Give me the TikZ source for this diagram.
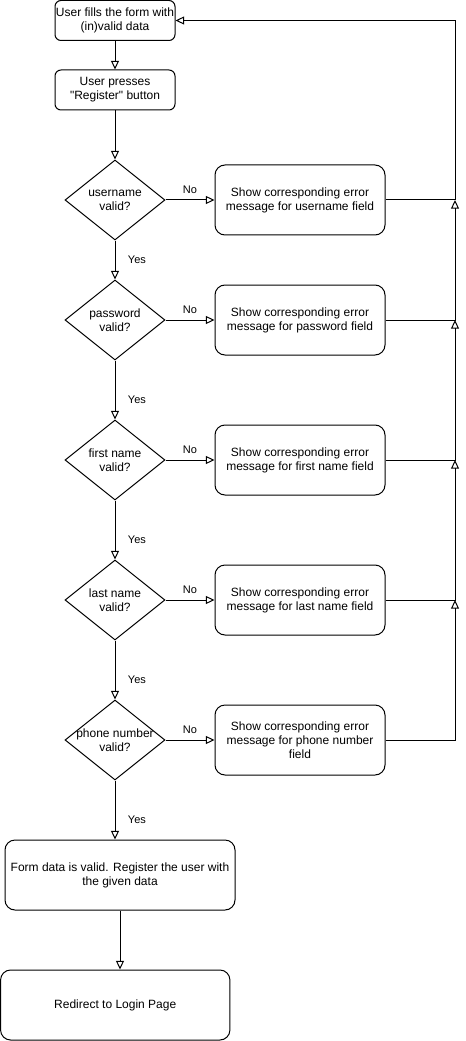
\documentclass[tikz,border=0pt]{standalone}
\usepackage{fontspec}
\setmainfont{Liberation Sans}[Ligatures=TeXOff]
\usetikzlibrary{arrows.meta}
\usetikzlibrary{shapes.geometric}

\begin{document}
\begin{tikzpicture}[x=0.75pt,y=-0.75pt,line width=0.75pt]
\tikzset{>={Triangle[open,width=6pt,length=6.5pt]}}
\tikzstyle{smallbox}=[draw,rounded corners=4.5pt,minimum width=90pt,minimum height=30pt,inner sep=0pt,align=center,font=\fontsize{9}{10.5}\selectfont]
\tikzstyle{errbox}=[draw,rounded corners=7.5pt,minimum width=127.5pt,minimum height=52.5pt,inner sep=0pt,align=center,font=\fontsize{9}{10.5}\selectfont]
\tikzstyle{bigbox}=[draw,rounded corners=7.5pt,minimum width=172.5pt,minimum height=52.5pt,inner sep=0pt,align=center,font=\fontsize{9}{10.5}\selectfont]
\tikzstyle{decision}=[draw,diamond,minimum width=75pt,minimum height=60pt,inner sep=0pt]
\tikzstyle{dtext}=[align=center,inner sep=0pt,font=\fontsize{9}{10.5}\selectfont]
\tikzstyle{lbl}=[font=\fontsize{8.25}{10}\selectfont]

\useasboundingbox (0,0) rectangle (466,1041);

\node[smallbox](fill) at (115,20.5){User fills the form with\\(in)valid data};
\node[smallbox](press) at (115,90){User presses\\"Register" button};

\node[decision,label={[dtext]center:username\\valid?}](d1) at (115,200){};
\node[decision,label={[dtext]center:password\\valid?}](d2) at (115,320){};
\node[decision,label={[dtext]center:first name\\valid?}](d3) at (115,460){};
\node[decision,label={[dtext]center:last name\\valid?}](d4) at (115,600){};
\node[decision,label={[dtext]center:phone number\\valid?}](d5) at (115,740){};

\node[errbox](e1) at (300,200){Show corresponding error\\message for username field};
\node[errbox](e2) at (300,320){Show corresponding error\\message for password field};
\node[errbox](e3) at (300,460){Show corresponding error\\message for first name field};
\node[errbox](e4) at (300,600){Show corresponding error\\message for last name field};
\node[errbox](e5) at (300,740){Show corresponding error\\message for phone number\\field};

\node[bigbox](valid) at (120,875){Form data is valid. Register the user with\\the given data};
\node[bigbox,minimum width=172pt](login) at (115.25,1005){Redirect to Login Page};

\coordinate (rail) at (455,20.5);

\draw [->] (fill) -- (press);
\draw [->] (press) -- (d1);

\draw [->] (d1) -- node[lbl,above=1pt]{No} (e1);
\draw [->] (d2) -- node[lbl,above=1pt]{No} (e2);
\draw [->] (d3) -- node[lbl,above=1pt]{No} (e3);
\draw [->] (d4) -- node[lbl,above=1pt]{No} (e4);
\draw [->] (d5) -- node[lbl,above=1pt]{No} (e5);

\draw [->] (d1) -- node[lbl,right=6pt]{Yes} (d2);
\draw [->] (d2) -- node[lbl,right=6pt,pos=0.67]{Yes} (d3);
\draw [->] (d3) -- node[lbl,right=6pt,pos=0.67]{Yes} (d4);
\draw [->] (d4) -- node[lbl,right=6pt,pos=0.67]{Yes} (d5);
\draw [->] (d5) -- node[lbl,right=6pt,pos=0.67]{Yes} (d5 |- valid.north);

\draw [->] (valid) -- (valid |- login.north);

\draw [->] (e1) -| (rail) -- (fill);
\draw [->] (e2) -| (rail |- e1);
\draw [->] (e3) -| (rail |- e2);
\draw [->] (e4) -| (rail |- e3);
\draw [->] (e5) -| (rail |- e4);
\end{tikzpicture}
\end{document}
